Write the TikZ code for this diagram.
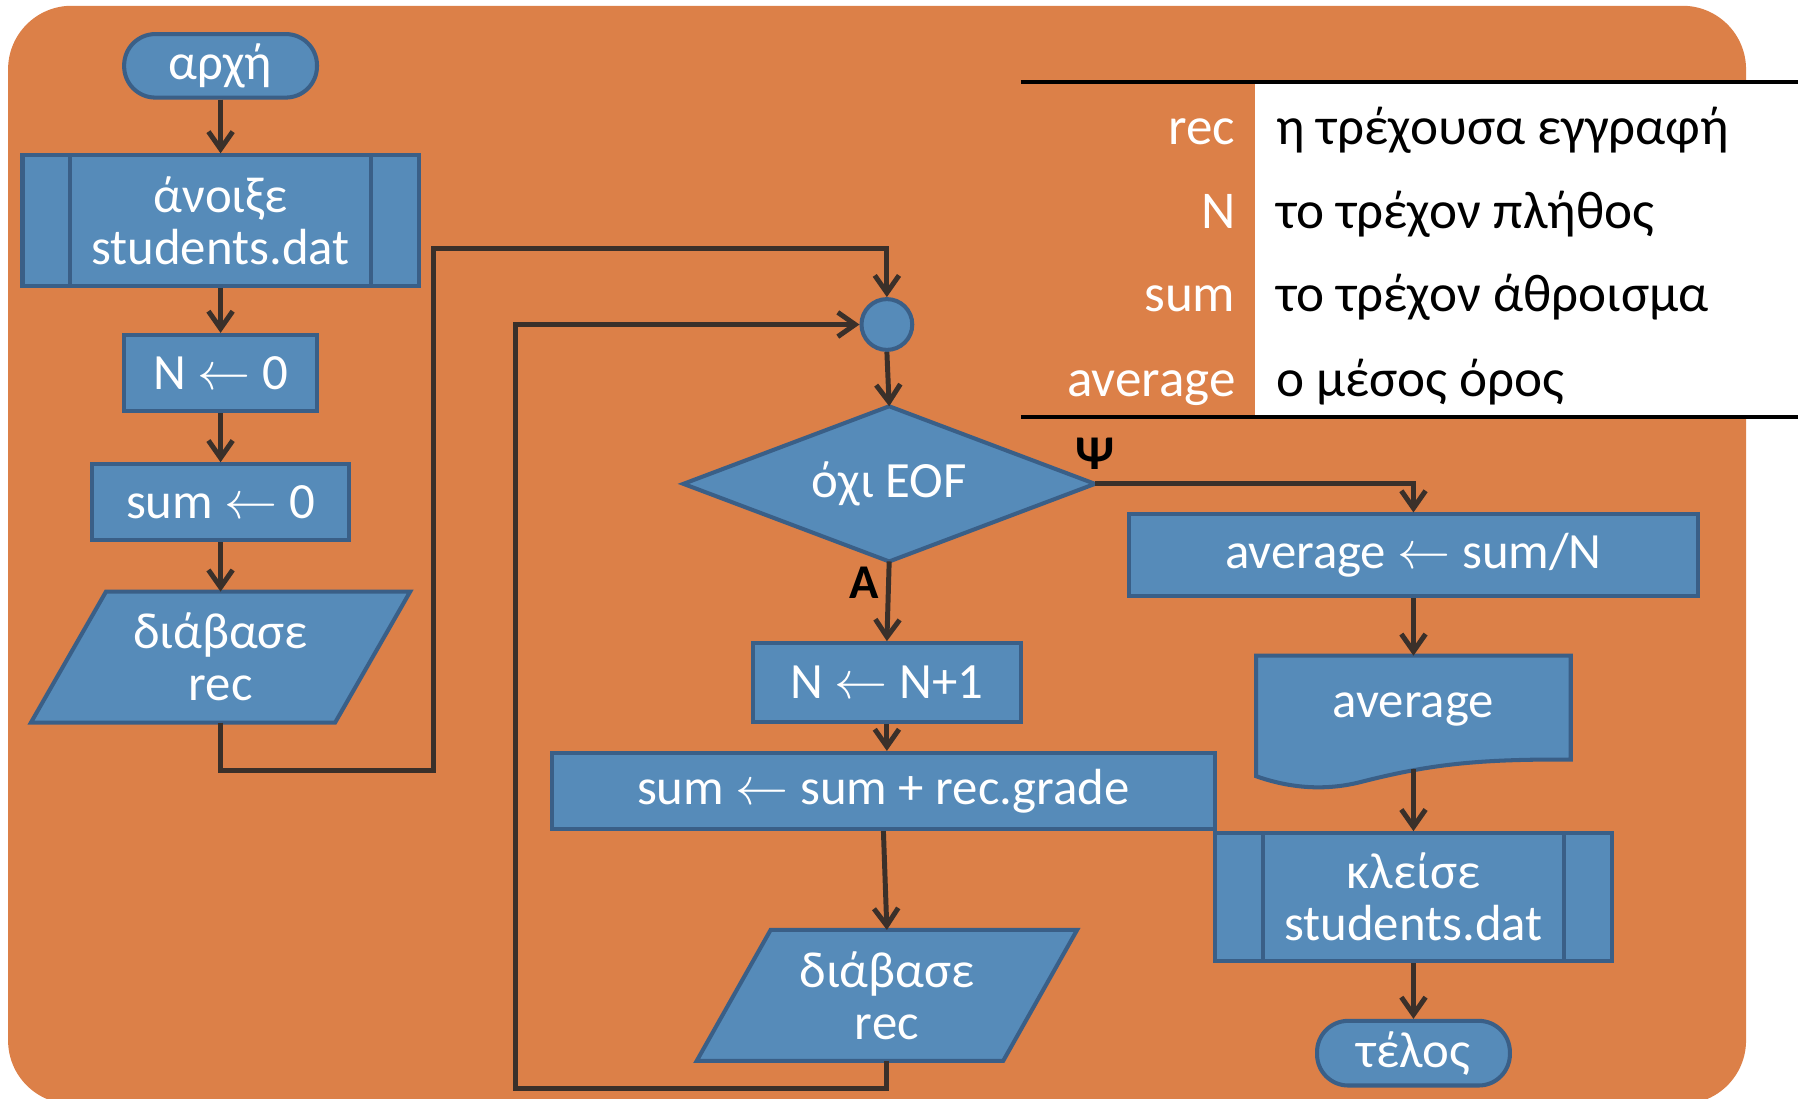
\documentclass[tikz,border=0pt]{standalone}
\usepackage{fontspec}
\setmainfont{Carlito}
\usetikzlibrary{arrows.meta,calc,backgrounds}
\definecolor{bg}{RGB}{220,128,72}
\definecolor{boxfill}{RGB}{86,139,185}
\definecolor{boxline}{RGB}{58,95,135}
\definecolor{arr}{RGB}{58,48,42}
\newcommand\larr{\scalebox{4.6}{\fontsize{10}{12}\selectfont$\leftarrow$}}
\tikzset{
  txt/.style={text=white,font=\fontsize{44}{45}\selectfont,align=center,inner sep=0pt},
  box/.style={txt,draw=boxline,fill=boxfill,line width=3.5pt},
  ghost/.style={txt},
  shapeline/.style={draw=boxline,fill=boxfill,line width=3.5pt,line join=miter},
  conn/.style={draw=arr,line width=4.3pt,-{Straight Barb[length=15pt,width=21pt,line width=4.3pt]}},
  tabl/.style={font=\fontsize{46}{47}\selectfont,inner sep=0pt},
  lbl/.style={font=\fontsize{42}{42}\selectfont\bfseries,text=black,inner sep=0pt}
}
\begin{document}
\begin{tikzpicture}[x=1pt,y=-1pt]
\useasboundingbox (0,0) rectangle (1557,951);

% table
\fill[white] (1087,73) rectangle (1557,359);
\draw[line width=4pt,black] (884,71) -- (1557,71);
\draw[line width=4pt,black] (884,361) -- (1557,361);
\node[tabl,text=white,anchor=base east] (k1) at (1070,125) {rec};
\node[tabl,text=white,anchor=base east] (k2) at (1070,198) {N};
\node[tabl,text=white,anchor=base east] (k3) at (1070,270) {sum};
\node[tabl,text=white,anchor=base east] (k4) at (1070,343) {average};
\node[tabl,text=black,anchor=base west] (v1) at (1105,125) {η τρέχουσα εγγραφή};
\node[tabl,text=black,anchor=base west] (v2) at (1105,198) {το τρέχον πλήθος};
\node[tabl,text=black,anchor=base west] (v3) at (1105,270) {το τρέχον άθροισμα};
\node[tabl,text=black,anchor=base west] (v4) at (1105,343) {ο μέσος όρος};

% left column
\node[box,rounded corners=27pt,minimum width=167pt,minimum height=55pt] (start) at (191,57) {αρχή};
\node[box,minimum width=343pt,minimum height=113pt] (open) at (191,191) {άνοιξε\\students.dat};
\draw[boxline,line width=3.5pt] ($(open.north west)+(43,0)$) -- ($(open.south west)+(43,0)$);
\draw[boxline,line width=3.5pt] ($(open.north east)+(-43,0)$) -- ($(open.south east)+(-43,0)$);
\node[box,minimum width=167pt,minimum height=66pt] (n0) at (191,323) {N \larr{} 0};
\node[box,minimum width=223pt,minimum height=66pt] (s0) at (191,435) {sum \larr{} 0};
\node[ghost,minimum width=263pt,minimum height=113pt] (rd1) at (191,569) {διάβασε\\rec};

% middle column
\node[draw=boxline,fill=boxfill,line width=3.5pt,circle,minimum size=44pt,inner sep=0pt] (cn) at (768,281) {};
\node[ghost,minimum width=356pt,minimum height=134pt] (dec) at (770,419) {όχι EOF};
\node[box,minimum width=232pt,minimum height=68pt] (inc) at (768,591) {N \larr{} N+1};
\node[box,minimum width=574pt,minimum height=66pt] (sum) at (765,685) {sum \larr{} sum + rec.grade};
\node[ghost,minimum width=265pt,minimum height=113pt] (rd2) at (768,862) {διάβασε\\rec};

% right column
\node[box,minimum width=493pt,minimum height=71pt] (avg) at (1224,481) {average \larr{} sum/N};
\node[ghost,minimum width=272pt,minimum height=104pt] (out) at (1224,620) {};
\node[txt] (outt) at (1224,614) {average};
\node[box,minimum width=343pt,minimum height=111pt] (close) at (1224,777) {κλείσε\\students.dat};
\draw[boxline,line width=3.5pt] ($(close.north west)+(43,0)$) -- ($(close.south west)+(43,0)$);
\draw[boxline,line width=3.5pt] ($(close.north east)+(-43,0)$) -- ($(close.south east)+(-43,0)$);
\node[box,rounded corners=27pt,minimum width=167pt,minimum height=56pt] (end) at (1224,912) {τέλος};

\begin{scope}[on background layer]
\fill[bg,rounded corners=55pt] (7,5) rectangle (1512,956);
\path[shapeline] ($(rd1.north west)+(32.5,0)$) -- ($(rd1.north east)+(32.5,0)$) -- ($(rd1.south east)+(-32.5,0)$) -- ($(rd1.south west)+(-32.5,0)$) -- cycle;
\path[shapeline] ($(rd2.north west)+(32,0)$) -- ($(rd2.north east)+(32,0)$) -- ($(rd2.south east)+(-32,0)$) -- ($(rd2.south west)+(-32,0)$) -- cycle;
\path[shapeline] (dec.west) -- (dec.north) -- (dec.east) -- (dec.south) -- cycle;
\path[shapeline] (out.north west) -- (out.north east) -- ($(out.north east)+(0,90)$) .. controls (1270,657) and (1230,664) .. (1175,678) .. controls (1140,686) and (1110,680) .. (out.south west) -- cycle;
\end{scope}

% labels
\node[lbl] (psi) at (948,393) {Ψ};
\node[lbl] (alpha) at (748,505) {Α};

% connectors
\coordinate (c1) at (375,667);
\coordinate (c2) at (375,215);
\coordinate (c3) at (446,943);
\draw[conn] (start) -- (open);
\draw[conn] (open) -- (n0);
\draw[conn] (n0) -- (s0);
\draw[conn] (s0) -- (rd1);
\draw[conn] (rd1.south) |- (c1) -- (c2) -| (cn.north);
\draw[conn] (rd2.south) |- (c3) |- (cn.west);
\draw[conn] (cn.south) -- (dec.north);
\draw[conn] (dec.east) -| (avg.north);
\draw[conn] (dec.south) -- (inc.north);
\draw[conn] (inc.south) -- (inc.south |- sum.north);
\draw[conn] (sum.south) -- (rd2.north);
\draw[conn] (avg.south) -- (out.north);
\draw[conn] ($(out.south)+(0,-6)$) -- (close.north);
\draw[conn] (close.south) -- (end.north);
\end{tikzpicture}
\end{document}
